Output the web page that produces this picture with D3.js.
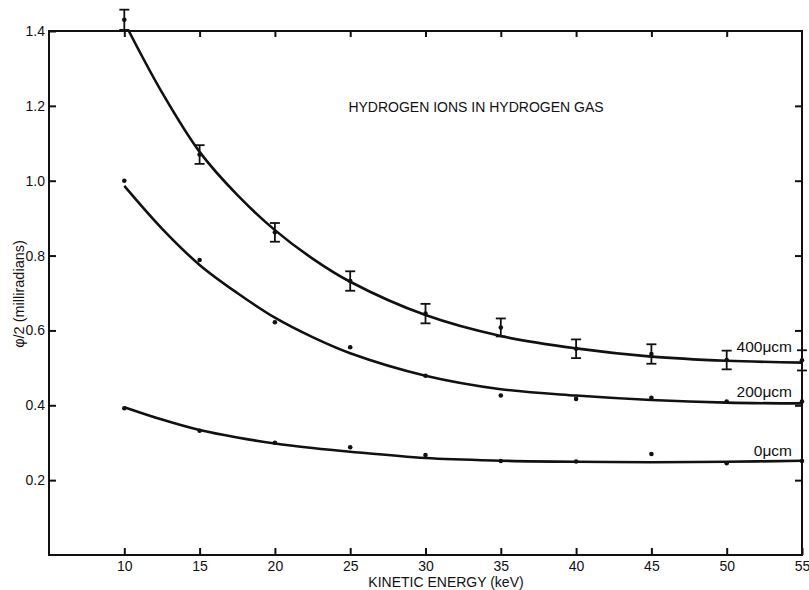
<!DOCTYPE html>
<html lang="en">
<head>
    <meta charset="UTF-8">
    <script src="https://d3js.org/d3.v7.min.js"></script>
    <title>Hydrogen ions in hydrogen gas</title>
    <style>
        body{
            margin: 0;
            background: #fff;
        }
        svg{
            font-family: "Liberation Sans", Arial, sans-serif;
        }
        .axis text{
            font-size: 14px;
            fill: #111;
        }
        .axis path, .axis line{
            stroke: #111;
            stroke-width: 2;
        }
        .curve{
            fill: none;
            stroke: #111;
            stroke-width: 2.6;
        }
    </style>
</head>
<body>
<svg width="809" height="590"></svg>
<script>
// measured points (keV, phi/2 in milliradians)
let energy = [10, 15, 20, 25, 30, 35, 40, 45, 50, 55]
let pts400 = [1.43, 1.07, 0.862, 0.732, 0.645, 0.608, 0.551, 0.537, 0.521, 0.52]
let err400 = [0.027, 0.025, 0.025, 0.026, 0.026, 0.024, 0.025, 0.026, 0.025, 0.027]
let pts200 = [1.0, 0.788, 0.622, 0.555, 0.479, 0.426, 0.417, 0.42, 0.41, 0.41]
let pts0 = [0.392, 0.332, 0.3, 0.288, 0.267, 0.251, 0.25, 0.27, 0.245, 0.251]

// smooth drawn curves
let curveE400 = [10.3, 12.5, 15, 17.5, 20, 22.5, 25, 30, 35, 40, 45, 50, 55]
let curve400 = [1.40, 1.236, 1.077, 0.962, 0.868, 0.792, 0.730, 0.641, 0.585, 0.552, 0.530, 0.519, 0.514]
let curveE = [10, 12.5, 15, 17.5, 20, 22.5, 25, 30, 35, 40, 45, 50, 55]
let curve200 = [0.986, 0.872, 0.775, 0.70, 0.634, 0.582, 0.539, 0.479, 0.443, 0.426, 0.414, 0.407, 0.405]
let curve0 = [0.395, 0.362, 0.334, 0.314, 0.298, 0.286, 0.276, 0.259, 0.252, 0.249, 0.248, 0.249, 0.252]

let xTicks = [10, 15, 20, 25, 30, 35, 40, 45, 50, 55]
let yTicks = [0.2, 0.4, 0.6, 0.8, 1.0, 1.2, 1.4]
let curveLabels = [
    {text: "400\u03bccm", v: 0.542},
    {text: "200\u03bccm", v: 0.423},
    {text: "0\u03bccm", v: 0.265}
]

let svg = d3.select("svg")
let mLeft = 49, mRight = 802, mTop = 31, mBottom = 555

let x = d3.scaleLinear().domain([5, 55]).range([mLeft, mRight])
let y = d3.scaleLinear().domain([0, 1.4]).range([mBottom, mTop])

// frame
svg.append("rect")
    .attr("x", mLeft).attr("y", mTop)
    .attr("width", mRight - mLeft).attr("height", mBottom - mTop)
    .attr("fill", "none").attr("stroke", "#111").attr("stroke-width", 2)

let fmt = d3.format(".1f")

svg.append("g").attr("class", "axis")
    .attr("transform", `translate(${mLeft},0)`)
    .call(d3.axisLeft(y).tickValues(yTicks).tickFormat(fmt).tickSize(-7).tickPadding(4))
    .call(g => g.select(".domain").remove())

svg.append("g").attr("class", "axis")
    .attr("transform", `translate(${mRight},0)`)
    .call(d3.axisRight(y).tickValues(yTicks.slice(0, 6)).tickFormat("").tickSize(-7))
    .call(g => g.select(".domain").remove())

svg.append("g").attr("class", "axis")
    .attr("transform", `translate(0,${mBottom})`)
    .call(d3.axisBottom(x).tickValues(xTicks).tickFormat(d3.format("d")).tickSize(-7).tickPadding(6))
    .call(g => g.select(".domain").remove())

svg.append("g").attr("class", "axis")
    .attr("transform", `translate(0,${mTop})`)
    .call(d3.axisTop(x).tickValues(xTicks.slice(0, 9)).tickFormat("").tickSize(-6))
    .call(g => g.select(".domain").remove())

// curves
let line = d3.line().x(d => x(d[0])).y(d => y(d[1])).curve(d3.curveCatmullRom)
svg.append("path").attr("class", "curve").attr("d", line(d3.zip(curveE400, curve400)))
svg.append("path").attr("class", "curve").attr("d", line(d3.zip(curveE, curve200)))
svg.append("path").attr("class", "curve").attr("d", line(d3.zip(curveE, curve0)))

// points
let allPts = d3.zip(energy, pts400).concat(d3.zip(energy, pts200), d3.zip(energy, pts0))
svg.selectAll(".pt").data(allPts).join("circle")
    .attr("class", "pt")
    .attr("cx", d => x(d[0])).attr("cy", d => y(d[1]))
    .attr("r", 2.3).attr("fill", "#111")

// error bars on the 400 series
let eb = svg.selectAll(".eb").data(d3.zip(energy, pts400, err400)).join("g")
    .attr("class", "eb").attr("stroke", "#111").attr("stroke-width", 1.8)
eb.append("line")
    .attr("x1", d => x(d[0])).attr("x2", d => x(d[0]))
    .attr("y1", d => y(d[1] + d[2])).attr("y2", d => y(d[1] - d[2]))
eb.append("line")
    .attr("x1", d => x(d[0]) - 5).attr("x2", d => x(d[0]) + 5)
    .attr("y1", d => y(d[1] + d[2])).attr("y2", d => y(d[1] + d[2]))
eb.append("line")
    .attr("x1", d => x(d[0]) - 5).attr("x2", d => x(d[0]) + 5)
    .attr("y1", d => y(d[1] - d[2])).attr("y2", d => y(d[1] - d[2]))

// labels
svg.selectAll(".clab").data(curveLabels).join("text")
    .attr("class", "clab")
    .attr("x", 792).attr("y", d => y(d.v))
    .attr("text-anchor", "end")
    .attr("font-size", 15.5).attr("fill", "#111")
    .text(d => d.text)

svg.append("text")
    .attr("x", 476).attr("y", 112)
    .attr("text-anchor", "middle")
    .attr("font-size", 14).attr("fill", "#111")
    .text("HYDROGEN IONS IN HYDROGEN GAS")

svg.append("text")
    .attr("x", 446).attr("y", 587)
    .attr("text-anchor", "middle")
    .attr("font-size", 14).attr("fill", "#111")
    .text("KINETIC ENERGY (keV)")

svg.append("text")
    .attr("x", 0).attr("y", 0)
    .attr("transform", "translate(24,294) rotate(-90)")
    .attr("text-anchor", "middle")
    .attr("font-size", 14.5).attr("fill", "#111")
    .text("\u03c6/2 (milliradians)")
</script>
</body>
</html>
